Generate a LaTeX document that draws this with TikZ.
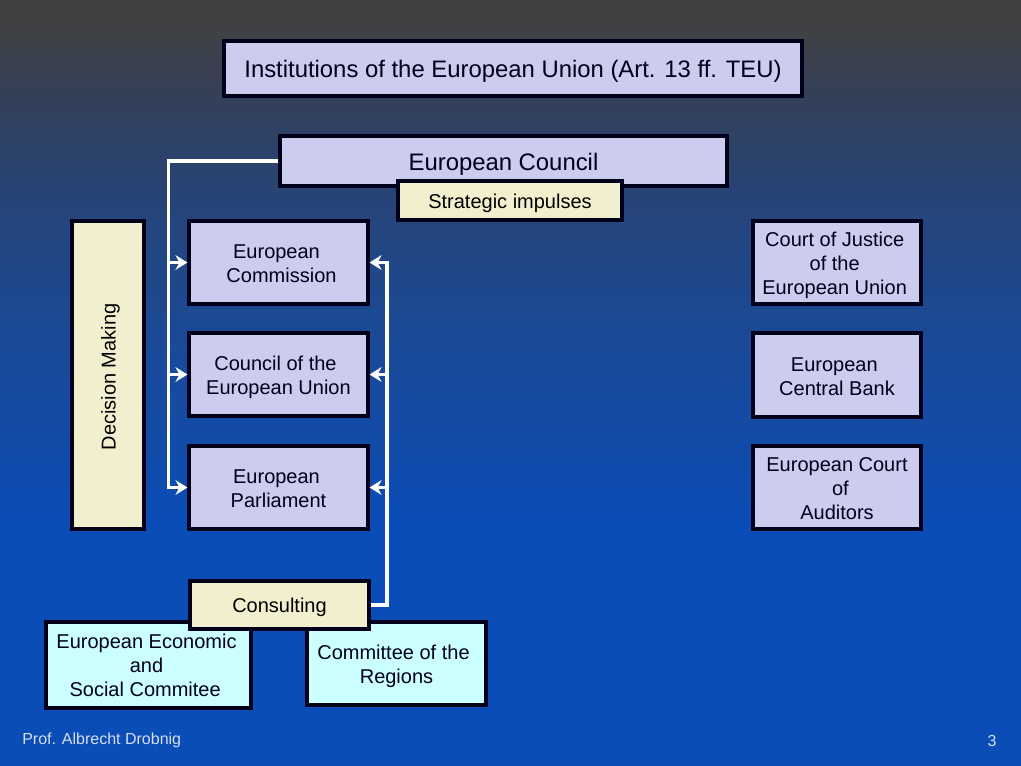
\documentclass[tikz,border=0pt]{standalone}
\usepackage{fontspec}
\setmainfont{Liberation Sans}
\usetikzlibrary{arrows.meta}
\definecolor{bga}{HTML}{414141}
\definecolor{bgb}{HTML}{33405A}
\definecolor{bgc}{HTML}{264478}
\definecolor{bgd}{HTML}{1C4993}
\definecolor{bge}{HTML}{0B4DB6}
\definecolor{lav}{HTML}{CCCCEE}
\definecolor{cream}{HTML}{F2EFCF}
\definecolor{cyanbox}{HTML}{CCFFFF}
\definecolor{ink}{HTML}{00001A}
\definecolor{foot}{HTML}{D6DEF0}
\tikzset{
  x=0.75pt,y=-0.75pt,
  boxbase/.style={draw=ink,line width=2.3pt,inner sep=0pt,align=center,text=ink,font=\fontsize{15}{18}\selectfont},
  lavbox/.style={boxbase,fill=lav},
  creambox/.style={boxbase,fill=cream,text=black},
  cyanb/.style={boxbase,fill=cyanbox},
  bigtext/.style={font=\fontsize{17.9}{21}\selectfont},
  conn/.style={draw=white,line width=2.5pt},
  tip/.style={-{Stealth[inset=3pt,length=9pt,width=11pt]}},
  footer/.style={text=foot,inner sep=0pt,font=\fontsize{12}{14}\selectfont}
}
\newcommand{\bx}[7]{\node[#6,minimum width={(#4-#2)*0.75pt},minimum height={(#5-#3)*0.75pt}] (#1) at ({(#2+#4)/2},{(#3+#5)/2}) {#7};}
\newcommand{\dn}[1]{\rule{0pt}{#1pt}}
\begin{document}
\begin{tikzpicture}
\useasboundingbox (0,0) rectangle (1021,766);
\shade[top color=bga,bottom color=bga] (0,0) rectangle (1021,20);
\shade[top color=bga,bottom color=bgb] (0,20) rectangle (1021,100.5);
\shade[top color=bgb,bottom color=bgc] (0,100) rectangle (1021,200.5);
\shade[top color=bgc,bottom color=bgd] (0,200) rectangle (1021,320.5);
\shade[top color=bgd,bottom color=bge] (0,320) rectangle (1021,520.5);
\fill[bge] (0,520) rectangle (1021,766);
\coordinate (lbus) at (168.5,160);
\coordinate (rbus) at (387,605);
\bx{title}{224}{41}{802}{96}{lavbox,bigtext}{\dn{17.7}Institutions of the European Union (Art. 13 ff. TEU)}
\bx{council}{280}{136}{727}{186}{lavbox,bigtext}{\dn{17.7}European Council}
\bx{comm}{189}{221}{368}{304}{lavbox}{\dn{12.5}\hspace*{-3pt}European\\\hspace*{4.5pt}Commission}
\bx{coeu}{189}{333}{368}{416}{lavbox}{\dn{15.5}\hspace*{-4.5pt}Council of the\\European Union}
\bx{parl}{189}{446}{368}{529}{lavbox}{\dn{12.5}\hspace*{-3pt}European\\Parliament}
\bx{court}{753}{221}{921}{304}{lavbox}{\dn{15.5}\hspace*{-3.5pt}Court of Justice\\\hspace*{-3.5pt}of the\\\hspace*{-3.5pt}European Union}
\bx{ecb}{753}{333}{921}{417}{lavbox}{\dn{12.5}\hspace*{-4pt}European\\Central Bank}
\bx{eca}{753}{446}{921}{529}{lavbox}{\dn{12.5}European Court\\\hspace*{5pt}of\\Auditors}
\bx{dec}{72}{221}{144}{529}{creambox}{}
\node[rotate=90,inner sep=0pt,text=black,font=\fontsize{15}{18}\selectfont] (declabel) at (110.5,377) {Decision Making};
\bx{eesc}{46}{622}{251}{708}{cyanb}{\hspace*{-3pt}European Economic\\\hspace*{-3pt}and\\\hspace*{-5pt}Social Commitee}
\bx{cor}{307}{622}{486}{705}{cyanb}{\dn{15.5}\hspace*{-4.5pt}Committee of the\\Regions}
\bx{consult}{190}{581}{369}{629}{creambox}{\dn{14}Consulting}
\bx{strat}{398}{181}{622}{220}{creambox}{\dn{15.5}Strategic impulses}
\node[footer,anchor=west] (prof) at (22,740.5) {Prof. Albrecht Drobnig};
\node[footer] (page) at (992,741) {3};
\draw[conn,tip] (council.west) -| (lbus |- comm.west) -- (comm.west);
\draw[conn,tip] (council.west) -| (lbus |- coeu.west) -- (coeu.west);
\draw[conn,tip] (council.west) -| (lbus |- parl.west) -- (parl.west);
\draw[conn,tip] (consult.east) -| (rbus |- parl.east) -- (parl.east);
\draw[conn,tip] (consult.east) -| (rbus |- coeu.east) -- (coeu.east);
\draw[conn,tip] (consult.east) -| (rbus |- comm.east) -- (comm.east);
\end{tikzpicture}
\end{document}
